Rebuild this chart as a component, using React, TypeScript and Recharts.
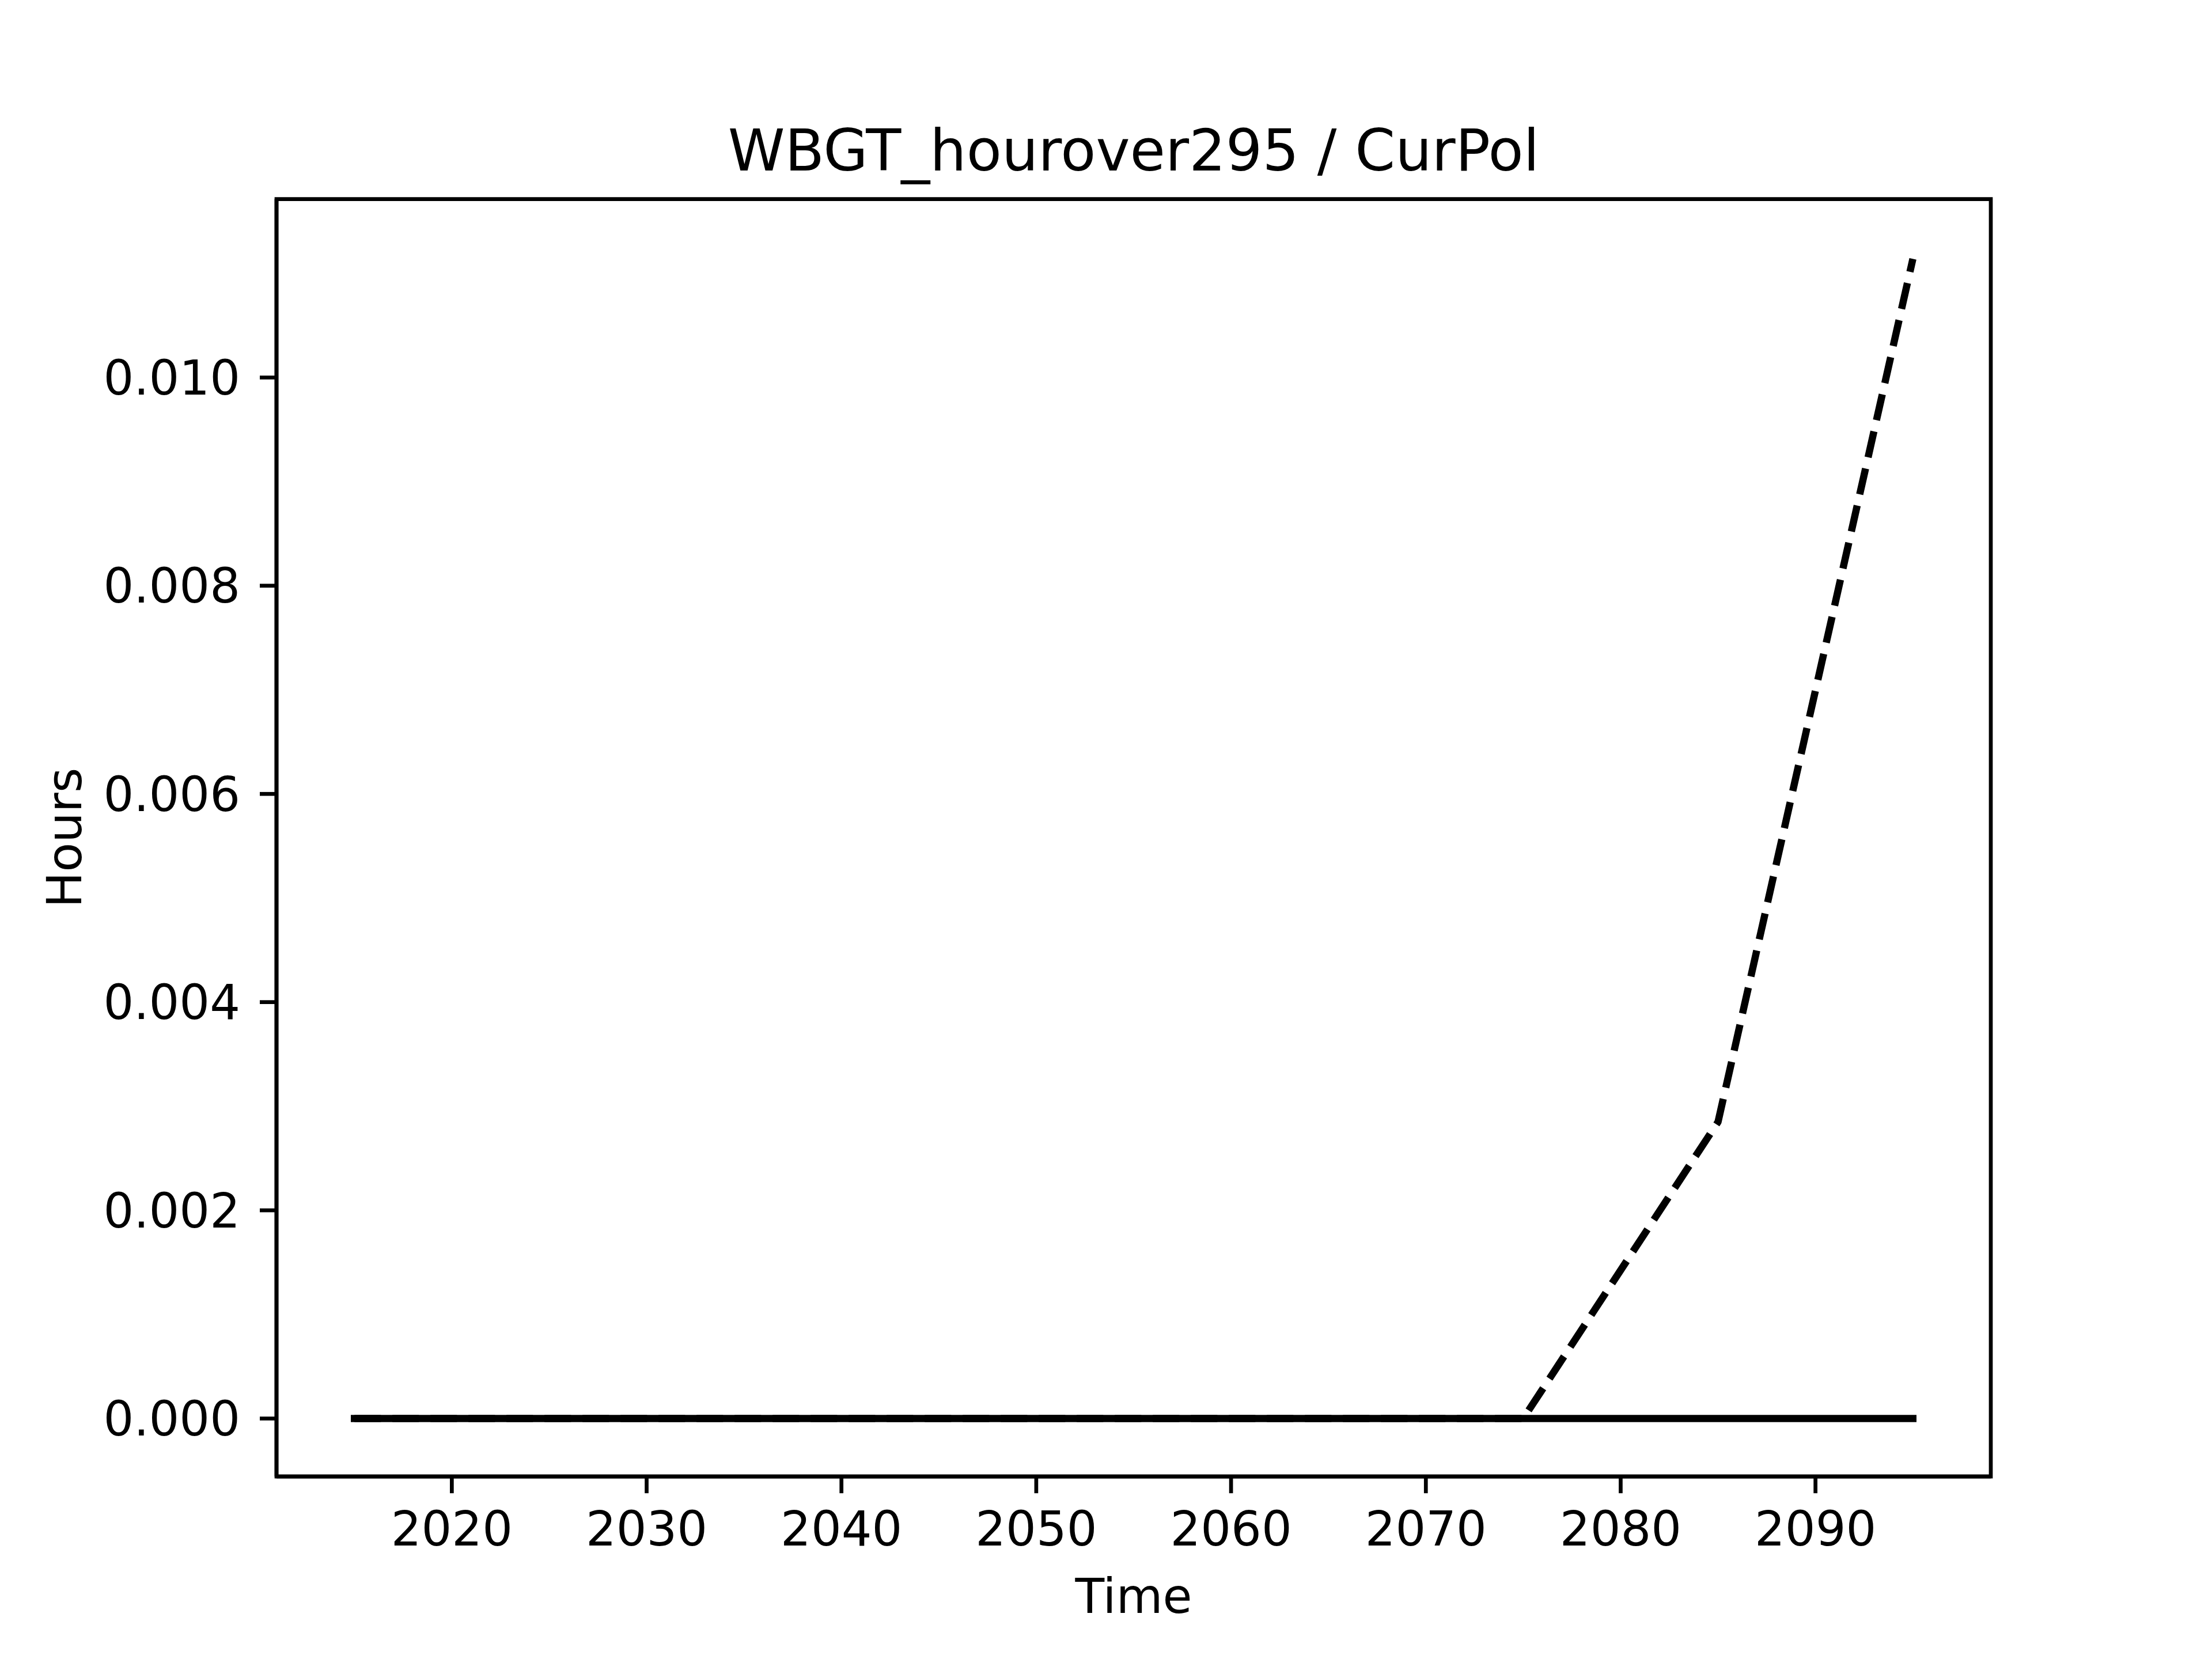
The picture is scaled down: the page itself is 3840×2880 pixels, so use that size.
import React from 'react';
import { LineChart, Line, XAxis, YAxis, ReferenceArea } from 'recharts';

// values (10-year steps)
const years = [2015, 2025, 2035, 2045, 2055, 2065, 2075, 2085, 2095];
const solidValues = [0, 0, 0, 0, 0, 0, 0, 0, 0];
const dashedValues = [0, 0, 0, 0, 0, 0, 0, 0.00285, 0.01114];

const xTicks = [2020, 2030, 2040, 2050, 2060, 2070, 2080, 2090];
const yTicks = [0, 0.002, 0.004, 0.006, 0.008, 0.01];
const xDomain = [2011, 2099];
const yDomain = [-0.000557, 0.011714];

const chartTitle = 'WBGT_hourover295 / CurPol';
const xLabel = 'Time';
const yLabel = 'Hours';

const data = years.map((year, i) => ({
  year,
  solid: solidValues[i],
  dashed: dashedValues[i],
}));

const FONT = 'DejaVu Sans, sans-serif';
const AXIS_W = 6.7;
const LINE_W = 12.5;
const tickStyle = { fill: '#000', fontSize: 83, fontFamily: FONT };
const axisLine = { stroke: '#000', strokeWidth: AXIS_W };
const tickLine = { stroke: '#000', strokeWidth: AXIS_W };

export default function App() {
  return (
    <div style={{ position: 'absolute', left: 0, top: 0, width: 3840, height: 2880, background: '#fff' }}>
      <LineChart
        width={3840}
        height={2880}
        data={data}
        margin={{ top: 345.6, right: 384, bottom: 0, left: 0 }}
      >
        <XAxis
          dataKey="year"
          type="number"
          domain={xDomain}
          allowDataOverflow
          ticks={xTicks}
          interval={0}
          height={316.8}
          tick={tickStyle}
          tickSize={29}
          tickMargin={32}
          axisLine={axisLine}
          tickLine={tickLine}
          label={{
            content: (props: any) => {
              const vb = props.viewBox;
              return (
                <text x={vb.x + vb.width / 2} y={vb.y + 237} textAnchor="middle" fontSize={83} fontFamily={FONT} fill="#000">
                  {xLabel}
                </text>
              );
            },
          }}
        />
        <YAxis
          type="number"
          domain={yDomain}
          allowDataOverflow
          ticks={yTicks}
          interval={0}
          width={480}
          tick={tickStyle}
          tickSize={29}
          tickMargin={34}
          tickFormatter={(v: number) => v.toFixed(3)}
          axisLine={axisLine}
          tickLine={tickLine}
          label={{
            content: (props: any) => {
              const vb = props.viewBox;
              const cx = vb.x + 141;
              const cy = vb.y + vb.height / 2;
              return (
                <text x={cx} y={cy} transform={`rotate(-90, ${cx}, ${cy})`} textAnchor="middle" fontSize={83} fontFamily={FONT} fill="#000">
                  {yLabel}
                </text>
              );
            },
          }}
        />
        {/* axes frame + title */}
        <ReferenceArea
          x1={xDomain[0]}
          x2={xDomain[1]}
          y1={yDomain[0]}
          y2={yDomain[1]}
          fill="none"
          fillOpacity={0}
          stroke="#000"
          strokeWidth={AXIS_W}
          label={{
            content: (props: any) => {
              const vb = props.viewBox;
              return (
                <text x={vb.x + vb.width / 2} y={vb.y - 50} textAnchor="middle" fontSize={100} fontFamily={FONT} fill="#000">
                  {chartTitle}
                </text>
              );
            },
          }}
        />
        <Line
          type="linear"
          dataKey="dashed"
          stroke="#000"
          strokeWidth={LINE_W}
          strokeDasharray="46 20"
          strokeLinejoin="round"
          dot={false}
          activeDot={false}
          isAnimationActive={false}
        />
        <Line
          type="linear"
          dataKey="solid"
          stroke="#000"
          strokeWidth={LINE_W}
          strokeLinecap="square"
          strokeLinejoin="round"
          dot={false}
          activeDot={false}
          isAnimationActive={false}
        />
      </LineChart>
    </div>
  );
}
